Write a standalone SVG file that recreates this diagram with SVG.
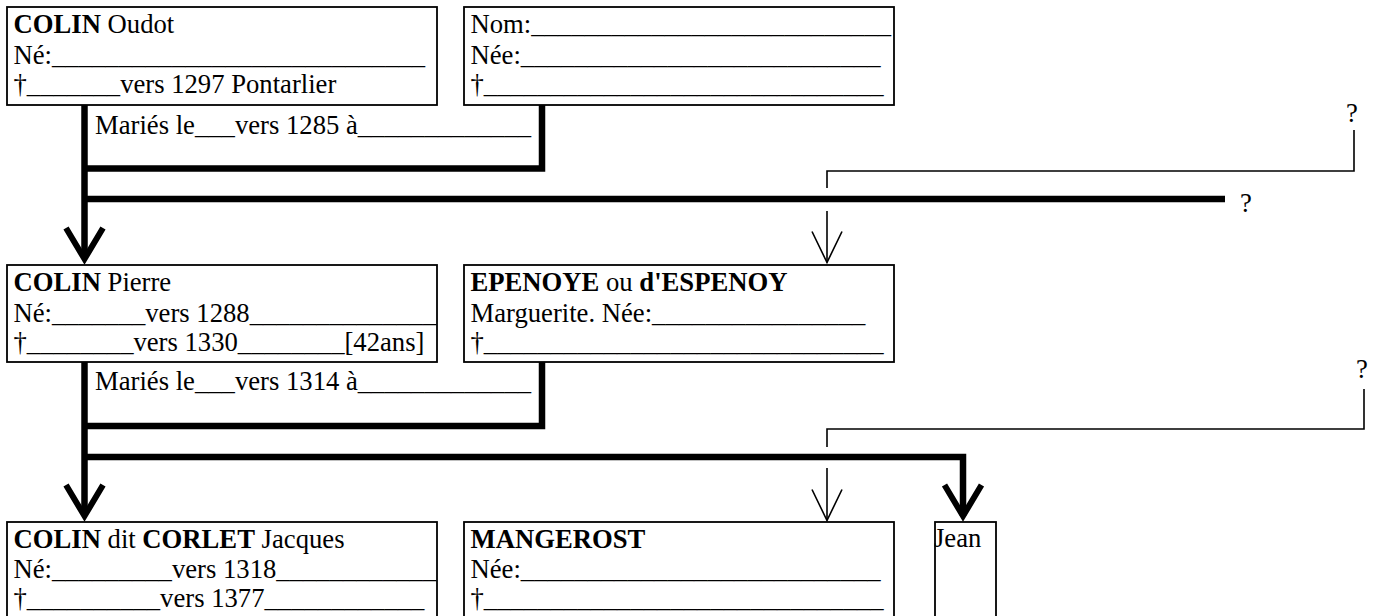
<svg xmlns="http://www.w3.org/2000/svg" width="1378" height="616" viewBox="0 0 1378 616">
<style>
text{font-family:"Liberation Serif","Times New Roman",serif;font-size:26.67px;fill:#000}
.b{font-weight:bold}
.box{fill:#fff;stroke:#000;stroke-width:1.8}
.thick{fill:none;stroke:#000;stroke-width:6.5;stroke-linejoin:miter;stroke-linecap:butt}
.thin{fill:none;stroke:#000;stroke-width:1.6;stroke-linecap:butt}
</style>
<defs>
<marker id="aThick" markerUnits="userSpaceOnUse" orient="auto" refX="0" refY="0" markerWidth="40" markerHeight="40" viewBox="-40 -20 40 40" overflow="visible">
<path d="M-31,-18.5 L0,0 L-31,18.5" fill="none" stroke="#000" stroke-width="6" stroke-linejoin="miter"/>
</marker>
<marker id="aThin" markerUnits="userSpaceOnUse" orient="auto" refX="0" refY="0" markerWidth="40" markerHeight="40" viewBox="-40 -20 40 40" overflow="visible">
<path d="M-31,-15 L0,0 L-31,15" fill="none" stroke="#000" stroke-width="1.6" stroke-linejoin="miter"/>
</marker>
</defs>
<rect width="1378" height="616" fill="#fff"/>

<g id="connectors">
<path class="thick" d="M84.5,100 V259" marker-end="url(#aThick)"/>
<path class="thick" d="M84.5,168.5 H542 V100"/>
<path class="thick" d="M84.5,199 H1225"/>
<path class="thin" d="M1354,130 V171 H827 V188"/>
<path class="thin" d="M827,211 V262.5" marker-end="url(#aThin)"/>
<text x="1346" y="122">?</text>
<text x="1240" y="212">?</text>

<path class="thick" d="M84.5,357 V516" marker-end="url(#aThick)"/>
<path class="thick" d="M84.5,426 H542 V357"/>
<path class="thick" d="M84.5,457 H963 V516" marker-end="url(#aThick)"/>
<path class="thin" d="M1364,389 V429 H827 V447"/>
<path class="thin" d="M827,468 V520.5" marker-end="url(#aThin)"/>
<text x="1356" y="378">?</text>

<text x="95" y="134">Mariés le___vers 1285 à_____________</text>
<text x="95" y="390">Mariés le___vers 1314 à_____________</text>
</g>

<g id="colin-oudot">
<rect class="box" x="7" y="7" width="430" height="98"/>
<text x="13.5" y="32.5"><tspan class="b">COLIN</tspan> Oudot</text>
<text x="13.5" y="63.5">Né:____________________________</text>
<text x="13.5" y="93">†_______vers 1297 Pontarlier</text>
</g>

<g id="epouse-oudot">
<rect class="box" x="464" y="7" width="430" height="98"/>
<text x="470.5" y="32.5">Nom:___________________________</text>
<text x="470.5" y="63.5">Née:___________________________</text>
<text x="470.5" y="93">†______________________________</text>
</g>

<g id="colin-pierre">
<rect class="box" x="7" y="265" width="430" height="97"/>
<text x="13.5" y="290.5"><tspan class="b">COLIN</tspan> Pierre</text>
<text x="13.5" y="321.5">Né:_______vers 1288______________</text>
<text x="13.5" y="351">†________vers 1330________[42ans]</text>
</g>

<g id="epenoye-marguerite">
<rect class="box" x="464" y="265" width="430" height="97"/>
<text x="470.5" y="290.5"><tspan class="b">EPENOYE</tspan> ou <tspan class="b">d'ESPENOY</tspan></text>
<text x="470.5" y="321.5">Marguerite. Née:________________</text>
<text x="470.5" y="351">†______________________________</text>
</g>

<g id="colin-jacques">
<rect class="box" x="7" y="522" width="430" height="120"/>
<text x="13.5" y="547.5"><tspan class="b">COLIN</tspan> dit <tspan class="b">CORLET</tspan> Jacques</text>
<text x="13.5" y="578">Né:_________vers 1318____________</text>
<text x="13.5" y="607">†__________vers 1377____________</text>
</g>

<g id="mangerost">
<rect class="box" x="464" y="522" width="430" height="120"/>
<text x="470.5" y="547.5"><tspan class="b">MANGEROST</tspan></text>
<text x="470.5" y="578">Née:___________________________</text>
<text x="470.5" y="607">†______________________________</text>
</g>

<g id="jean">
<rect class="box" x="935" y="522" width="61" height="120"/>
<text x="934" y="547">Jean</text>
</g>
</svg>
